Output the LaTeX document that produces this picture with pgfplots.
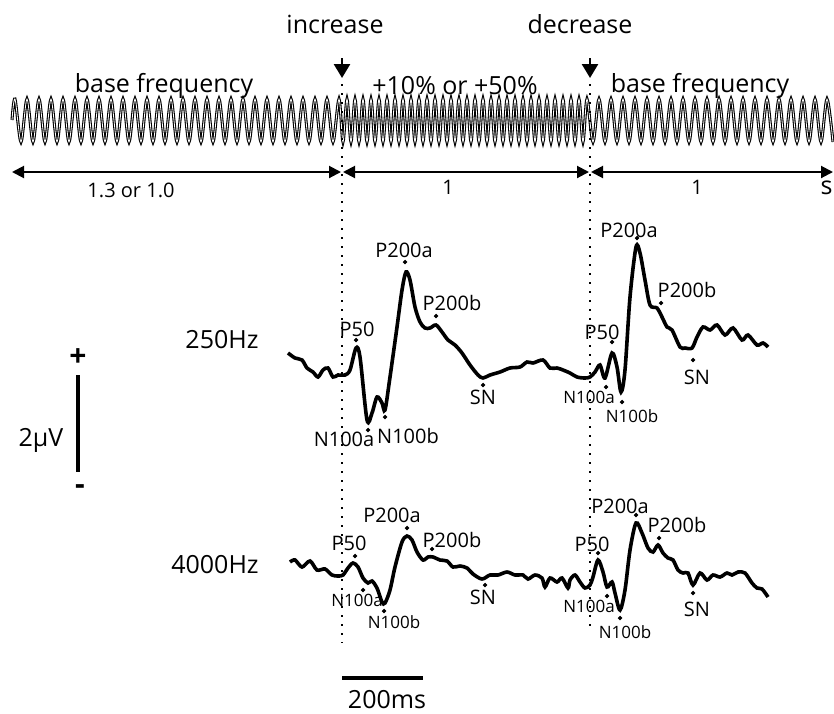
\documentclass[border=0pt]{standalone}
\usepackage{pgfplots}
\pgfplotsset{compat=1.18}
\usepackage{pgfplotstable}
\usepackage{fontspec}
\setmainfont{Open Sans}
\usetikzlibrary{arrows.meta}

\newcommand{\fbig}{\fontsize{12.5}{14}\selectfont}
\newcommand{\fmid}{\fontsize{10}{12}\selectfont}
\newcommand{\fsml}{\fontsize{8.5}{10}\selectfont}

% stimulus: peaks and troughs of the tone (pixel units)
\pgfplotstableread{
x y
12 120
15 99
21 142
27 99
33 142
39 99
45 142
51 99
57 142
63 99
69 142
75 99
81 142
87 99
93 142
99 99
105 142
111 99
117 142
123 99
129 142
135 99
141 142
147 99
153 142
159 99
165 142
171 99
177 142
183 99
189 142
195 99
201 142
207 99
213 142
219 99
225 142
231 99
237 142
243 99
249 142
255 99
261 142
267 99
273 142
279 99
285 142
291 99
297 142
303 99
309 142
315 99
321 142
327 99
333 142
339 99
343 142
347 99
351 142
355 99
359 142
363 99
367 142
371 99
375 142
379 99
383 142
387 99
391 142
395 99
399 142
403 99
407 142
411 99
415 142
419 99
423 142
427 99
431 142
435 99
439 142
443 99
447 142
451 99
455 142
459 99
463 142
467 99
471 142
475 99
479 142
483 99
487 142
491 99
495 142
499 99
503 142
507 99
511 142
515 99
519 142
523 99
527 142
531 99
535 142
539 99
543 142
547 99
551 142
555 99
559 142
563 99
567 142
571 99
575 142
579 99
583 142
587 99
593 142
599 99
605 142
611 99
617 142
623 99
629 142
635 99
641 142
647 99
653 142
659 99
665 142
671 99
677 142
683 99
689 142
695 99
701 142
707 99
713 142
719 99
725 142
731 99
737 142
743 99
749 142
755 99
761 142
767 99
773 142
779 99
785 142
791 99
797 142
803 99
809 142
815 99
821 142
827 99
833 142
}\tone

\pgfplotstableread{
x y
288 353
295 358
302 360
307 368
313 372
318 377
323 370
328 368
333 377
338 375
345 375
350 370
356 348
360 357
367 420
372 413
377 397
382 403
385 410
390 377
397 327
402 290
406 272
410 280
415 307
420 322
425 328
430 328
436 325
442 332
448 340
455 345
462 353
470 365
478 375
483 378
490 375
500 372
510 368
520 367
527 362
533 363
543 360
550 368
557 368
563 370
570 373
577 377
585 378
590 377
595 372
600 365
605 378
612 353
617 367
621 392
625 370
630 297
636 247
640 253
645 280
650 305
657 308
662 317
667 327
672 330
680 347
685 348
692 348
697 337
703 327
710 330
717 325
725 335
733 328
742 340
748 335
757 345
763 343
768 347
}\erpA

\pgfplotstableread{
x y
290 562
295 560
302 567
310 561
317 570
325 569
332 575
338 576
343 575
348 568
353 563
358 567
363 578
368 583
372 581
377 588
382 602
385 603
390 590
395 567
402 542
407 536
412 540
417 552
423 560
428 557
433 557
440 560
447 561
453 567
460 566
467 568
473 574
482 579
490 575
498 575
507 572
515 575
523 575
528 579
535 575
542 578
545 587
550 578
557 582
562 578
568 588
570 580
575 575
580 582
585 588
590 585
593 577
598 560
603 572
607 587
612 582
615 593
620 610
625 590
630 550
636 523
642 533
648 548
653 552
658 545
663 553
668 558
673 560
678 570
683 573
688 573
693 585
700 573
707 580
713 575
720 577
727 573
732 575
738 572
745 573
752 583
757 588
762 589
768 597
}\erpB

\begin{document}
\begin{tikzpicture}
\begin{axis}[name=ax, scale only axis, width=417pt, height=356.5pt,
  xmin=0, xmax=834, ymin=0, ymax=713, y dir=reverse, hide axis, clip=false]

% tone, drawn as an outlined line
\addplot[black, line width=1.5pt, smooth] table[x=x,y=y] {\tone};
\addplot[white, line width=0.4pt, smooth] table[x=x,y=y] {\tone};

% duration arrows
\addplot[black, line width=1pt, {Triangle[length=6pt,width=6pt]}-{Triangle[length=6pt,width=6pt]}] coordinates {(12,172) (341,172)};
\addplot[black, line width=1pt, {Triangle[length=6pt,width=6pt]}-{Triangle[length=6pt,width=6pt]}] coordinates {(343,172) (589,172)};
\addplot[black, line width=1pt, {Triangle[length=6pt,width=6pt]}-{Triangle[length=6pt,width=6pt]}] coordinates {(591,172) (833,172)};

% change arrows
\addplot[black, line width=1.3pt, -{Triangle[length=7pt,width=8pt]}] coordinates {(342,58) (342,78)};
\addplot[black, line width=1.3pt, -{Triangle[length=7pt,width=8pt]}] coordinates {(590,58) (590,78)};

% onset lines
\addplot[black, line width=1.3pt, dash pattern=on 1.2pt off 3.3pt] coordinates {(342,84) (342,643)};
\addplot[black, line width=1.3pt, dash pattern=on 1.2pt off 3.3pt] coordinates {(590,84) (590,631)};

% ERP traces
\addplot[black, line width=1.8pt, smooth] table[x=x,y=y] {\erpA};
\addplot[black, line width=1.8pt, smooth] table[x=x,y=y] {\erpB};

% peak markers
\addplot[black, only marks, mark=*, mark size=0.85pt] coordinates {
 (356,340) (405,262) (436,316) (483,385) (368,430) (385,417)
 (637,238) (661,303) (612,342) (606,387) (622,402) (693,360)
 (355,556) (407,528) (432,549) (363,590) (384,611) (485,585)
 (636,515) (659,538) (598,553) (607,596) (620,618) (693,593)};

% scale bars
\addplot[black, line width=2pt] coordinates {(78,375) (78,472)};
\addplot[black, line width=2pt] coordinates {(342,678) (423,678)};

% texts
\node[font=\fbig] at (axis cs:335,24) {increase};
\node[font=\fbig] at (axis cs:580,24) {decrease};
\node[font=\fbig] at (axis cs:164,86) {base frequency};
\node[font=\fbig] at (axis cs:455,86) {+10\% or +50\%};
\node[font=\fbig] at (axis cs:700,86) {base frequency};
\node[font=\fmid] at (axis cs:131,190) {1.3 or 1.0};
\node[font=\fmid] at (axis cs:448,187) {1};
\node[font=\fmid] at (axis cs:697,187) {1};
\node[font=\fbig, anchor=east, inner sep=0.5pt] at (axis cs:834,188) {s};

\node[font=\fbig] at (axis cs:222,340) {250Hz};
\node[font=\fbig] at (axis cs:215,565) {4000Hz};
\node[font=\fbig] at (axis cs:41,440) {2µV};
\node[font=\fontsize{15}{15}\selectfont\bfseries] at (axis cs:78,358) {+};
\node[font=\fontsize{15}{15}\selectfont\bfseries] at (axis cs:80,490) {-};
\node[font=\fbig] at (axis cs:387,700) {200ms};

\node[font=\fmid] at (axis cs:357,329) {P50};
\node[font=\fmid] at (axis cs:404,250) {P200a};
\node[font=\fmid] at (axis cs:452,303) {P200b};
\node[font=\fmid] at (axis cs:483,397) {SN};
\node[font=\fmid] at (axis cs:344,439) {N100a};
\node[font=\fmid] at (axis cs:408,436) {N100b};

\node[font=\fmid] at (axis cs:602,332) {P50};
\node[font=\fmid] at (axis cs:629,230) {P200a};
\node[font=\fmid] at (axis cs:687,290) {P200b};
\node[font=\fmid] at (axis cs:697,377) {SN};
\node[font=\fsml] at (axis cs:589,397) {N100a};
\node[font=\fsml] at (axis cs:632,416) {N100b};

\node[font=\fmid] at (axis cs:349,543) {P50};
\node[font=\fmid] at (axis cs:392,515) {P200a};
\node[font=\fmid] at (axis cs:452,540) {P200b};
\node[font=\fmid] at (axis cs:483,597) {SN};
\node[font=\fsml] at (axis cs:357,600) {N100a};
\node[font=\fsml] at (axis cs:394,622) {N100b};

\node[font=\fmid] at (axis cs:592,544) {P50};
\node[font=\fmid] at (axis cs:620,506) {P200a};
\node[font=\fmid] at (axis cs:677,525) {P200b};
\node[font=\fmid] at (axis cs:697,609) {SN};
\node[font=\fsml] at (axis cs:589,606) {N100a};
\node[font=\fsml] at (axis cs:625,632) {N100b};
\end{axis}
\pgfresetboundingbox
\path[use as bounding box] (ax.south west) rectangle (ax.north east);
\end{tikzpicture}
\end{document}
